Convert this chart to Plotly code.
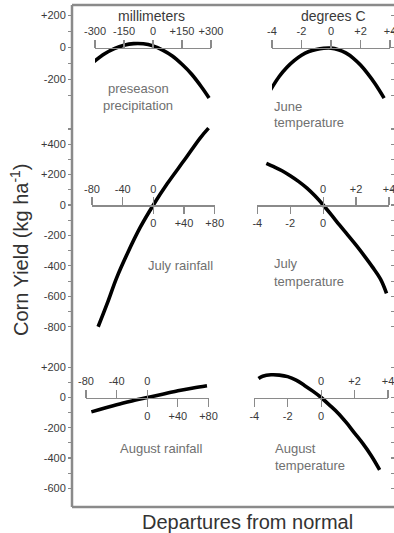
import plotly.graph_objects as go

W, H = 394, 533

# ---------------- data ----------------
# preseason precipitation (mm departure) vs corn yield (kg/ha)
pre_x = [-305, -250, -200, -150, -100, -50, 0, 50, 100, 150, 200, 250, 290]
pre_y = [-88, -39, -7, 14, 24, 23, 10, -16, -53, -105, -167, -245, -315]

# June temperature (deg C departure)
jun_x = [-4.1, -3.5, -3, -2.5, -2, -1.5, -1, -0.5, 0, 0.5, 1, 1.5, 2, 2.5, 3, 3.6]
jun_y = [-265, -180, -125, -82, -48, -25, -12, -5, -4, -14, -34, -66, -110, -165, -228, -316]

# July rainfall (mm)
julr_x = [-72, -60, -48, -34, -17, 0, 18, 40, 61, 72]
julr_y = [-800, -645, -480, -320, -146, 0, 139, 292, 440, 505]

# July temperature (deg C)
jult_x = [-3.45, -3, -2.5, -2, -1.5, -1, -0.5, 0, 0.5, 1, 1.5, 2, 2.5, 3, 3.5, 3.85]
jult_y = [274, 252, 225, 192, 155, 112, 60, 0, -65, -133, -198, -264, -334, -408, -490, -580]

# August rainfall (mm)
augr_x = [-73, -40, -20, 0, 20, 40, 60, 78]
augr_y = [-95, -48, -23, 0, 22, 44, 63, 78]

# August temperature (deg C)
augt_x = [-3.75, -3.5, -3, -2.5, -2, -1.5, -1, -0.5, 0, 0.5, 1, 1.5, 2, 2.5, 3, 3.5]
augt_y = [125, 140, 150, 148, 138, 115, 80, 42, 0, -50, -102, -165, -235, -305, -385, -478]

# tick values / labels (labelled ticks and unlabelled minor ticks)
yt_row1 = [200, 0, -200]
ym_row1 = [100, -100, -300]
yt_row2 = [400, 200, 0, -200, -400, -600, -800]
ym_row2 = [500, 300, 100, -100, -300, -500, -700]
yt_row3 = [200, 0, -200, -400, -600]
ym_row3 = [100, -100, -300, -500]

pre_ticks = [-300, -150, 0, 150, 300]
deg_ticks = [-4, -2, 0, 2, 4]
rain_neg = [-80, -40, 0]
rain_pos = [0, 40, 80]
deg_neg = [-4, -2, 0]
deg_pos = [0, 2, 4]

panel_labels = ["preseason", "precipitation", "June", "temperature",
                "July rainfall", "July", "temperature",
                "August rainfall", "August", "temperature"]


def lab(v):
    return ("+" + str(v)) if v > 0 else str(v)


# ---------------- layout helpers ----------------
def fx(p):
    return p / W


def fy(p):
    return 1 - p / H


FONT = "Liberation Sans, Arial, Helvetica, sans-serif"
GRAY = "#8a8a8a"
TXT = "#3a3a3a"

# rows: zero pixel, px per unit, top px, bottom px
rows = [(47.5, 0.16, 5, 120), (205, 0.1522, 120, 340), (397.5, 0.1513, 340, 507)]
ytv = [yt_row1, yt_row2, yt_row3]
ymv = [ym_row1, ym_row2, ym_row3]

fig = go.Figure()
layout = dict(width=W, height=H, margin=dict(l=0, r=0, t=0, b=0, pad=0, autoexpand=False),
              autosize=False,
              paper_bgcolor="white", plot_bgcolor="white", showlegend=False,
              font=dict(family=FONT, color=TXT))

for i, (z, s, top, bot) in enumerate(rows):
    rng = [(z - bot) / s, (z - top) / s]
    dom = [fy(bot), fy(top)]
    nm = "yaxis" if i == 0 else "yaxis%d" % (i + 1)
    layout[nm] = dict(domain=dom, range=rng, anchor="free", position=fx(72),
                      tickmode="array", tickvals=ytv[i], ticktext=[lab(v) for v in ytv[i]],
                      ticks="outside", ticklen=4, tickwidth=1.2, tickcolor=GRAY,
                      minor=dict(tickmode="array", tickvals=ymv[i], ticks="outside", ticklen=4,
                                 tickwidth=1.2, tickcolor=GRAY, showgrid=False),
                      showline=False, showgrid=False, zeroline=False, automargin=False,
                      ticklabeloverflow="allow",
                      tickfont=dict(size=11, color=TXT), fixedrange=True)
    layout["yaxis%d" % (i + 4)] = dict(overlaying="y" if i == 0 else "y%d" % (i + 1),
                                       range=rng, anchor="free", position=1.0, side="right",
                                       tickmode="array", tickvals=sorted(ytv[i] + ymv[i]),
                                       showticklabels=False, automargin=False,
                                       ticks="inside", ticklen=3, tickwidth=1.2, tickcolor=GRAY,
                                       showline=False, showgrid=False, zeroline=False, fixedrange=True)

# panels: (left px, right px, range, row index, top ticks, bottom ticks)
panels = [
    (95, 211, [-300, 300], 0, pre_ticks, None),
    (272, 390, [-4, 4], 0, deg_ticks, None),
    (92, 214.7, [-80, 80], 1, rain_neg, rain_pos),
    (257.3, 389, [-4, 4], 1, deg_pos, deg_neg),
    (86, 208.5, [-80, 80], 2, rain_neg, rain_pos),
    (254.3, 388, [-4, 4], 2, deg_pos, deg_neg),
]
curves = [(pre_x, pre_y), (jun_x, jun_y), (julr_x, julr_y),
          (jult_x, jult_y), (augr_x, augr_y), (augt_x, augt_y)]

ax_n = 1
for k, (l, r, rng, ri, top_t, bot_t) in enumerate(panels):
    pos = fy(rows[ri][0])
    yname = "y" if ri == 0 else "y%d" % (ri + 1)
    base = ax_n
    bname = "xaxis" if base == 1 else "xaxis%d" % base
    layout[bname] = dict(domain=[fx(l), fx(r)], range=rng, anchor="free", position=pos,
                         side="top", tickmode="array", tickvals=top_t,
                         ticktext=[lab(v) for v in top_t], ticks="outside", ticklen=8,
                         tickwidth=1.2, tickcolor=GRAY, showline=True, linecolor=GRAY,
                         linewidth=1.5, showgrid=False, zeroline=False, tickangle=0,
                         automargin=False, ticklabeloverflow="allow",
                         tickfont=dict(size=11, color=TXT), fixedrange=True)
    xref = "x" if base == 1 else "x%d" % base
    xs, ys = curves[k]
    fig.add_trace(go.Scatter(x=xs, y=ys, xaxis=xref, yaxis=yname, mode="lines",
                             line=dict(color="black", width=3.6, shape="spline", smoothing=1.0),
                             hoverinfo="skip"))
    ax_n += 1
    if bot_t is not None:
        layout["xaxis%d" % ax_n] = dict(overlaying=xref, range=rng, anchor="free", position=pos,
                                        side="bottom", tickmode="array", tickvals=bot_t,
                                        ticktext=[lab(v) for v in bot_t], ticks="outside",
                                        ticklen=8, tickwidth=1.2, tickcolor=GRAY, showline=False,
                                        showgrid=False, zeroline=False, tickangle=0,
                                        automargin=False, ticklabeloverflow="allow",
                                        tickfont=dict(size=11, color=TXT), fixedrange=True)
        fig.add_trace(go.Scatter(x=[], y=[], xaxis="x%d" % ax_n, yaxis=yname, mode="lines",
                                 hoverinfo="skip"))
        ax_n += 1

# helper traces so the mirrored right-hand tick axes are drawn
for i, xr in enumerate(["x", "x3", "x7"]):
    fig.add_trace(go.Scatter(x=[], y=[], xaxis=xr, yaxis="y%d" % (i + 4), mode="lines",
                             hoverinfo="skip"))

# frame
shapes = []
for (x0, y0, x1, y1) in [(72, 5, 72, 507), (72, 5, 394, 5), (72, 507, 394, 507)]:
    shapes.append(dict(type="line", xref="paper", yref="paper", x0=fx(x0), x1=fx(x1),
                       y0=fy(y0), y1=fy(y1), line=dict(color=GRAY, width=2.5)))
layout["shapes"] = shapes

ann = []


def add(text, x, y, size, color, xanchor="center", angle=0):
    ann.append(dict(text=text, x=fx(x), y=fy(y), xref="paper", yref="paper",
                    showarrow=False, xanchor=xanchor, yanchor="middle", textangle=angle,
                    font=dict(size=size, color=color, family=FONT)))


PL = "#707070"
add("millimeters", 151.7, 16.5, 14, TXT)
add("degrees C", 333.7, 16.5, 14, TXT)
add(panel_labels[0], 138, 88.3, 13, PL)
add(panel_labels[1], 138, 105, 13, PL)
add(panel_labels[2], 272.3, 106.5, 13, PL, "left")
add(panel_labels[3], 272.3, 122.8, 13, PL, "left")
add(panel_labels[4], 145.7, 265, 13, PL, "left")
add(panel_labels[5], 271.7, 263.3, 13, PL, "left")
add(panel_labels[6], 271.7, 281, 13, PL, "left")
add(panel_labels[7], 118.3, 448.3, 13, PL, "left")
add(panel_labels[8], 272.7, 448.3, 13, PL, "left")
add(panel_labels[9], 272.7, 465.7, 13, PL, "left")
add("Departures from normal", 247, 521.7, 20, "#333333")
add("Corn Yield (kg ha<sup>-1</sup>)", 19, 250, 20, "#333333", angle=-90)
layout["annotations"] = ann

fig.update_layout(**layout)
fig.write_html("out.html", config={"displayModeBar": False, "staticPlot": True},
               post_script="document.body.style.margin='0';document.body.style.overflow='hidden';")
